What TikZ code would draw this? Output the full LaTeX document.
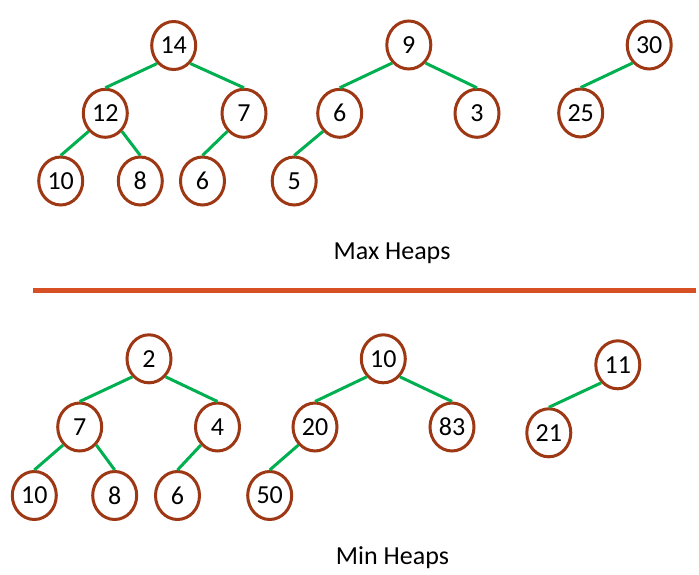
\documentclass[tikz,border=0pt]{standalone}
\usepackage{fontspec}
\setmainfont{Carlito}
\usetikzlibrary{shapes.geometric}
\definecolor{nodebrown}{RGB}{158,56,20}
\definecolor{edgegreen}{RGB}{0,176,80}
\definecolor{divred}{RGB}{214,80,36}
\tikzset{
  hnode/.style={ellipse, draw=nodebrown, line width=3pt, fill=white,
    minimum width=44pt, minimum height=48pt, inner sep=0pt,
    font=\fontsize{26}{26}\selectfont},
  hedge/.style={draw=edgegreen, line width=3pt},
  caption/.style={anchor=base, inner sep=0pt, font=\fontsize{26}{26}\selectfont}
}
\begin{document}
\begin{tikzpicture}[x=1pt,y=-1pt]
\useasboundingbox (0,0) rectangle (699,575);
% Max heaps
\node[hnode] (a14) at (173.7,45.5) {14};
\node[hnode] (a12) at (105.3,113.3) {12};
\node[hnode] (a7)  at (244,113.3) {7};
\node[hnode] (a10) at (60.7,181) {10};
\node[hnode] (a8)  at (140.3,181) {8};
\node[hnode] (a6)  at (202.5,181) {6};
\node[hnode] (b9)  at (408.8,45) {9};
\node[hnode] (b6)  at (339.7,113.3) {6};
\node[hnode] (b3)  at (477,113.3) {3};
\node[hnode] (b5)  at (294.2,181) {5};
\node[hnode] (c30) at (649.2,45) {30};
\node[hnode] (c25) at (580.7,113) {25};
\draw[hedge] (a14.south west) -- (a12.north);
\draw[hedge] (a14.south east) -- (a7.north);
\draw[hedge] (a12.south west) -- (a10.north);
\draw[hedge] (a12.south east) -- (a8.north);
\draw[hedge] (a7.south west) -- (a6.north);
\draw[hedge] (b9.south west) -- (b6.north);
\draw[hedge] (b9.south east) -- (b3.north);
\draw[hedge] (b6.south west) -- (b5.north);
\draw[hedge] (c30.south west) -- (c25.north);
\node[caption] (maxcap) at (392,259.3) {Max Heaps};
% divider
\coordinate (dl) at (33,290.3);
\coordinate (dr) at (696,290.3);
\draw[divred, line width=4.5pt] (dl) -- (dr);
% Min heaps
\node[hnode] (d2)  at (149,358.8) {2};
\node[hnode] (d7)  at (79.7,427) {7};
\node[hnode] (d4)  at (217.5,427) {4};
\node[hnode] (d10) at (34.3,495.5) {10};
\node[hnode] (d8)  at (114.7,495.5) {8};
\node[hnode] (d6)  at (177.5,495.5) {6};
\node[hnode] (e10) at (383.3,358.8) {10};
\node[hnode] (e20) at (315,427) {20};
\node[hnode] (e83) at (452,427) {83};
\node[hnode] (e50) at (269.7,495.5) {50};
\node[hnode] (f11) at (617.8,364.8) {11};
\node[hnode] (f21) at (548.8,432.8) {21};
\draw[hedge] (d2.south west) -- (d7.north);
\draw[hedge] (d2.south east) -- (d4.north);
\draw[hedge] (d7.south west) -- (d10.north);
\draw[hedge] (d7.south east) -- (d8.north);
\draw[hedge] (d4.south west) -- (d6.north);
\draw[hedge] (e10.south west) -- (e20.north);
\draw[hedge] (e10.south east) -- (e83.north);
\draw[hedge] (e20.south west) -- (e50.north);
\draw[hedge] (f11.south west) -- (f21.north);
\node[caption] (mincap) at (392.5,564.3) {Min Heaps};
\end{tikzpicture}
\end{document}
